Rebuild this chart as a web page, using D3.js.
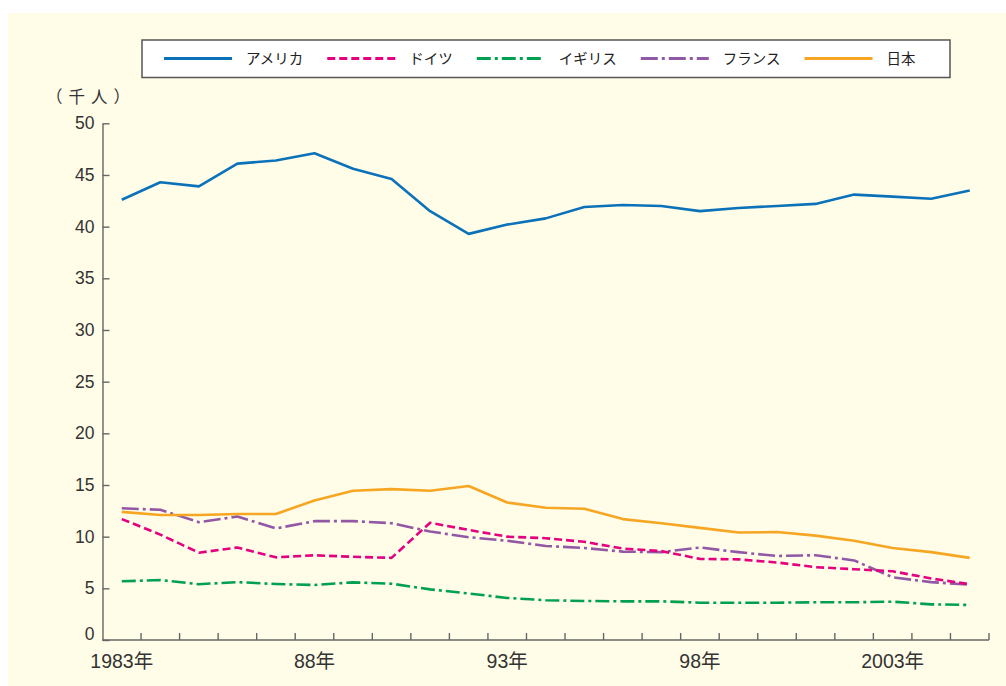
<!DOCTYPE html>
<html>
<head>
<meta charset="utf-8">
<script src="https://cdn.jsdelivr.net/npm/d3@7"></script>
<style>
  html, body { margin: 0; padding: 0; background: #ffffff; }
  svg { display: block; }
  .tick text { fill: #333; }
</style>
</head>
<body>
<div id="chart"></div>
<script>
// categories
const years = [1983, 1984, 1985, 1986, 1987, 1988, 1989, 1990, 1991, 1992, 1993, 1994,
  1995, 1996, 1997, 1998, 1999, 2000, 2001, 2002, 2003, 2004, 2005];
const labelYears = [1983, 1988, 1993, 1998, 2003];
const labelText = ["1983年", "88年", "93年", "98年", "2003年"];
const yTicks = [0, 5, 10, 15, 20, 25, 30, 35, 40, 45, 50];

// series values (thousand persons)
const usa = [42.6, 44.3, 43.9, 46.1, 46.4, 47.1, 45.6, 44.6, 41.5, 39.3, 40.2, 40.8,
  41.9, 42.1, 42.0, 41.5, 41.8, 42.0, 42.2, 43.1, 42.9, 42.7, 43.5];
const germany = [11.7, 10.2, 8.45, 8.95, 8.0, 8.2, 8.05, 7.95, 11.35, 10.65, 10.0, 9.85,
  9.5, 8.85, 8.6, 7.85, 7.8, 7.5, 7.05, 6.85, 6.65, 5.95, 5.4];
const uk = [5.68, 5.8, 5.4, 5.6, 5.42, 5.32, 5.58, 5.45, 4.9, 4.5, 4.07, 3.85,
  3.78, 3.74, 3.74, 3.61, 3.61, 3.61, 3.65, 3.65, 3.71, 3.45, 3.39];
const france = [12.75, 12.6, 11.4, 11.95, 10.8, 11.5, 11.5, 11.3, 10.5, 9.95, 9.6, 9.1,
  8.9, 8.55, 8.5, 8.95, 8.5, 8.13, 8.2, 7.7, 6.07, 5.6, 5.35];
const japan = [12.4, 12.1, 12.1, 12.2, 12.2, 13.5, 14.45, 14.6, 14.45, 14.9, 13.3, 12.8,
  12.7, 11.7, 11.3, 10.85, 10.4, 10.45, 10.1, 9.6, 8.9, 8.5, 7.95];

// legend order / draw order
const series = [
  { name: "アメリカ", values: usa, color: "#0b72b9", dash: null },
  { name: "ドイツ", values: germany, color: "#e4007f", dash: "8,4" },
  { name: "イギリス", values: uk, color: "#00a051", dash: "14,4,3,4" },
  { name: "フランス", values: france, color: "#9257a5", dash: "17,4,3,4" },
  { name: "日本", values: japan, color: "#f6a623", dash: null }
];
const drawOrder = [0, 2, 3, 4, 1];

const W = 1006, H = 686;
const axisFont = "'Liberation Sans', 'Noto Sans CJK JP', sans-serif";
const cjkFont = "'Noto Sans CJK JP', sans-serif";

const svg = d3.select("#chart").append("svg")
  .attr("width", W)
  .attr("height", H);

// background panel
svg.append("rect")
  .attr("x", 8).attr("y", 13)
  .attr("width", W - 8).attr("height", H - 13)
  .attr("fill", "#fffde8");

const x = d3.scaleBand().domain(years).range([102.5, 989]).padding(0);
const y = d3.scaleLinear().domain([0, 50]).range([640, 123.3]);

// y axis
const yAxis = svg.append("g")
  .attr("transform", "translate(102.5,0)")
  .call(d3.axisLeft(y).tickValues(yTicks).tickSizeInner(-7).tickSizeOuter(0).tickPadding(8));
yAxis.selectAll("path, line").attr("stroke", "#666").attr("stroke-width", 1.4);
yAxis.selectAll("text")
  .attr("font-family", axisFont)
  .attr("font-size", 17.5)
  .attr("dy", (d) => d === 0 ? "-0.05em" : "0.32em");

// x axis line + boundary ticks
const xAxis = svg.append("g");
xAxis.append("line")
  .attr("x1", x.range()[0]).attr("x2", x.range()[1])
  .attr("y1", y(0)).attr("y2", y(0))
  .attr("stroke", "#666").attr("stroke-width", 1.4);
const bounds = years.slice(1).map((yr) => x(yr)).concat([x.range()[1]]);
xAxis.selectAll("line.bt")
  .data(bounds)
  .enter()
  .append("line")
  .attr("class", "bt")
  .attr("x1", (d) => d).attr("x2", (d) => d)
  .attr("y1", y(0)).attr("y2", y(0) - 7)
  .attr("stroke", "#666").attr("stroke-width", 1.4);

// x labels at band centres
const xLab = svg.append("g")
  .attr("transform", `translate(0,${y(0)})`)
  .call(d3.axisBottom(x)
    .tickValues(labelYears)
    .tickSize(0)
    .tickPadding(14)
    .tickFormat((d) => labelText[labelYears.indexOf(d)]));
xLab.select("path").remove();
xLab.selectAll("text")
  .attr("font-family", axisFont)
  .attr("font-size", 19.5)
  .attr("fill", "#333");

// unit label
svg.append("text")
  .attr("x", 91).attr("y", 103)
  .attr("text-anchor", "middle")
  .attr("font-family", cjkFont)
  .attr("font-size", 16.5)
  .attr("letter-spacing", 6)
  .attr("fill", "#333")
  .text("（千人）");

// lines
const line = (vals) => d3.line()
  .x((d, i) => x(years[i]) + x.bandwidth() / 2)
  .y((d) => y(d))(vals);

drawOrder.forEach((k) => {
  const s = series[k];
  svg.append("path")
    .attr("d", line(s.values))
    .attr("fill", "none")
    .attr("stroke", s.color)
    .attr("stroke-width", 2.6)
    .attr("stroke-linejoin", "round")
    .attr("stroke-dasharray", s.dash);
});

// legend
const legend = svg.append("g");
legend.append("rect")
  .attr("x", 142).attr("y", 40)
  .attr("width", 808).attr("height", 37.5)
  .attr("fill", "#ffffff")
  .attr("stroke", "#555")
  .attr("stroke-width", 1.5);

let lx = 164;
series.forEach((s) => {
  const g = legend.append("g");
  g.append("line")
    .attr("x1", lx).attr("x2", lx + 68)
    .attr("y1", 58.5).attr("y2", 58.5)
    .attr("stroke", s.color)
    .attr("stroke-width", 2.8)
    .attr("stroke-dasharray", s.dash);
  const t = g.append("text")
    .attr("x", lx + 82).attr("y", 64)
    .attr("font-family", cjkFont)
    .attr("font-size", 14.5)
    .attr("fill", "#222")
    .text(s.name);
  lx += 82 + t.node().getComputedTextLength() + 24;
});
</script>
</body>
</html>
